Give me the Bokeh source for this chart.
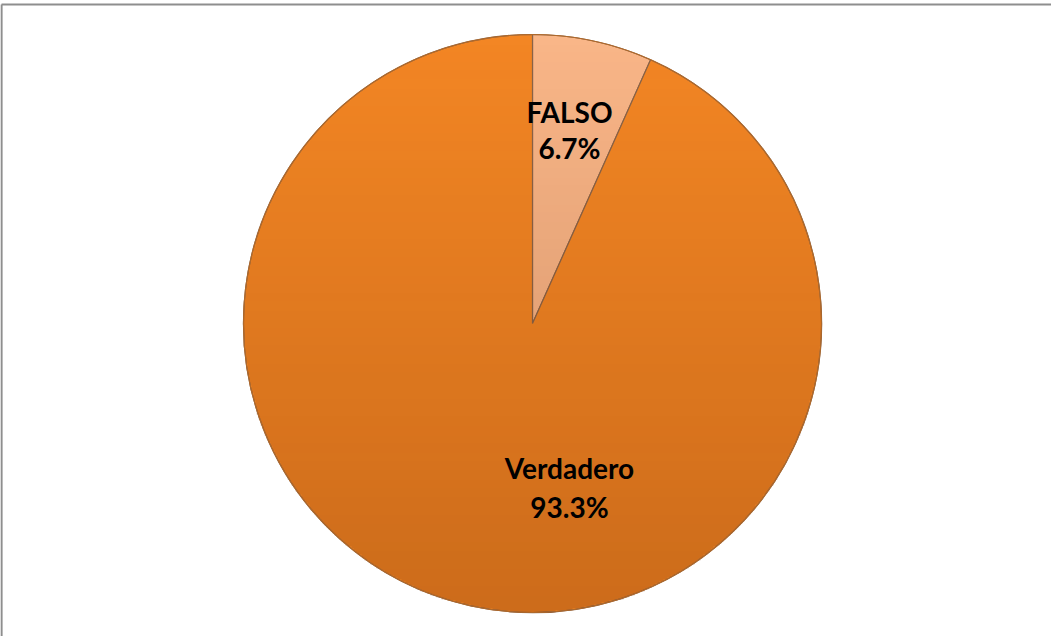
import numpy as np
from bokeh.plotting import figure
from bokeh.models import ColumnDataSource, Range1d
from bokeh.core.properties import value
from bokeh.embed import file_html
from bokeh.resources import INLINE

# ---- data ----
categories = ["FALSO", "Verdadero"]
percentages = [6.7, 93.3]
slice_colors = ["#f9b688", "#f38624"]

W, H = 1051, 636
p = figure(width=W, height=H, output_backend="svg", toolbar_location=None,
           x_range=Range1d(0, W), y_range=Range1d(0, H), min_border=0)
p.axis.visible = False
p.grid.visible = False
p.outline_line_color = None
p.background_fill_color = "white"
p.border_fill_color = "white"

# frame (only top/left visible in the reference)
top = H - 4
p.segment(x0=[1, 1], y0=[-10, top], x1=[1, W + 10], y1=[top, top],
          line_color="#8e8e8e", line_width=2.2)

cx, cy, r = 532, H - 323, 289

vals = np.array(percentages)
fr = vals / vals.sum()
cum = np.concatenate([[0], np.cumsum(fr)])
start = np.pi / 2 - 2 * np.pi * cum[:-1]
end = np.pi / 2 - 2 * np.pi * cum[1:]

src = ColumnDataSource(dict(cat=categories, pct=percentages, start=start, end=end,
                            color=slice_colors))
p.wedge(x=cx, y=cy, radius=r, start_angle="start", end_angle="end",
        direction="clock", fill_color="color", line_color="#8a6448",
        line_width=1.2, source=src)

# vertical shading (top lighter, bottom darker) masked to the pie disc
N = 300
yy, xx = np.mgrid[0:N, 0:N]
u = (xx + 0.5) / N * 2 - 1
v = (yy + 0.5) / N * 2 - 1  # -1 bottom, +1 top
inside = (u ** 2 + v ** 2) <= 1.0
alpha = np.clip((0.15 - 0.15 * v) * 0.85, 0, 1) * inside
img = np.zeros((N, N), dtype=np.uint32)
view = img.view(dtype=np.uint8).reshape((N, N, 4))
view[..., 0] = 90
view[..., 1] = 30
view[..., 2] = 0
view[..., 3] = (alpha * 255).astype(np.uint8)
p.image_rgba(image=[img], x=cx - r, y=cy - r, dw=2 * r, dh=2 * r)

# outer rim
p.circle(x=[cx], y=[cy], radius=r, fill_color=None, line_color="#b0692a",
         line_width=1.2)

# labels
lab_x = [cx + 37, cx + 37]
name_y = [cy + 212, cy - 144]
pct_y = [cy + 176, cy - 183]
pct_txt = [f"{v:.1f}%" for v in percentages]
p.text(x=lab_x, y=name_y, text=categories, text_font=value("Lato"),
       text_font_style="bold", text_font_size="28px", text_align="center",
       text_baseline="middle", text_color="black")
p.text(x=lab_x, y=pct_y, text=pct_txt, text_font=value("Lato"),
       text_font_style="bold", text_font_size="28px", text_align="center",
       text_baseline="middle", text_color="black")

open("out.html", "w").write(file_html(p, INLINE))
